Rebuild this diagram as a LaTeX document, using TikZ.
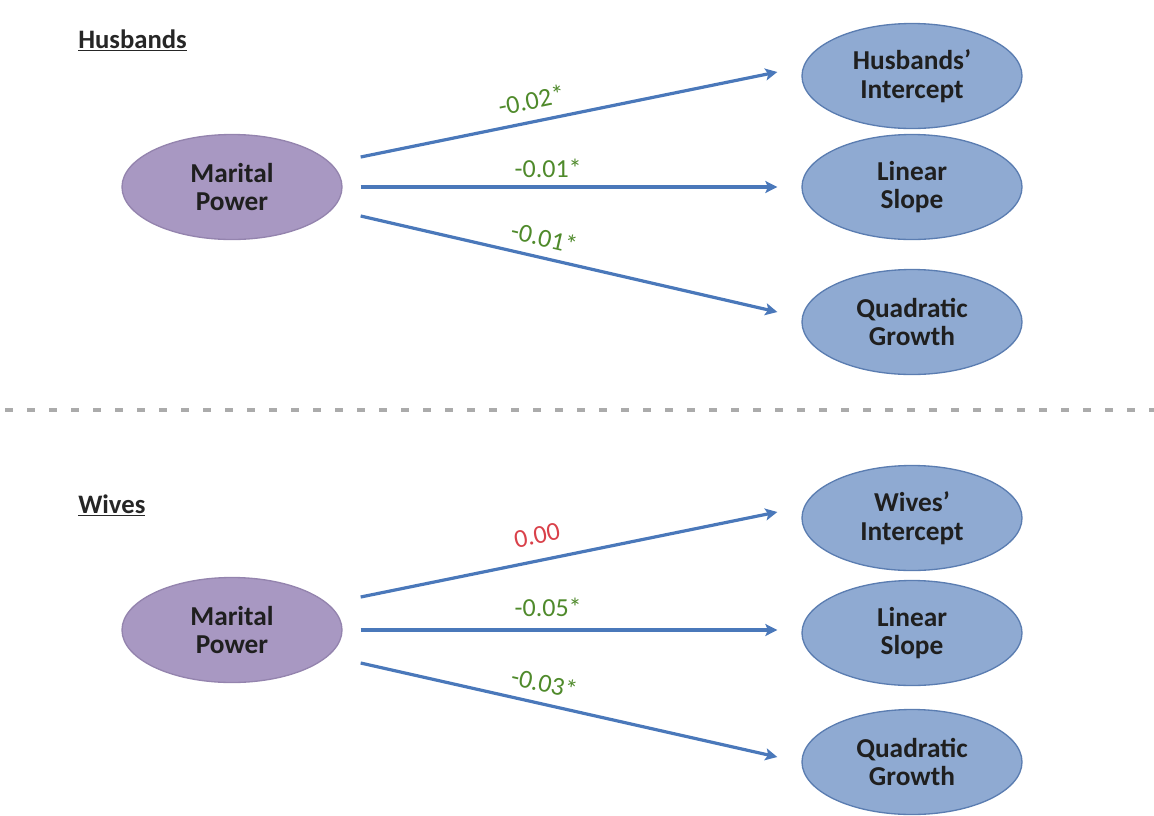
\documentclass[tikz,border=0pt]{standalone}
\usepackage{fontspec}
\setmainfont{Carlito}
\usetikzlibrary{shapes.geometric,arrows.meta,calc}
\definecolor{purpfill}{HTML}{A898C2}
\definecolor{purpline}{HTML}{9484AE}
\definecolor{bluefill}{HTML}{8FAAD2}
\definecolor{blueline}{HTML}{5B7DB1}
\definecolor{arrowblue}{HTML}{4A78BA}
\definecolor{labgreen}{HTML}{4F8A2B}
\definecolor{labred}{HTML}{D9414A}
\definecolor{dashgray}{HTML}{ABABAB}
\tikzset{
  ovalbase/.style={ellipse, minimum width=165pt, minimum height=78.75pt, inner sep=0pt,
    line width=1pt, align=center, font=\fontsize{20.5}{21.5}\selectfont\bfseries, text=black!88},
  powerbox/.style={ovalbase, draw=purpline, fill=purpfill},
  outbox/.style={ovalbase, draw=blueline, fill=bluefill},
  grouptitle/.style={anchor=base west, inner sep=0pt, font=\fontsize{20}{21}\selectfont\bfseries, text=black!85},
  arr/.style={draw=arrowblue, line width=2.4pt, -{Stealth[length=9pt,width=9pt,inset=2pt]}},
  coef/.style={sloped, inner sep=0pt, font=\fontsize{19.5}{21}\selectfont, text=labgreen},
  coefred/.style={coef, text=labred}
}
\begin{document}
\begin{tikzpicture}[x=0.75pt,y=-0.75pt]
\useasboundingbox (0,0) rectangle (1154,815);

% titles
\node[grouptitle] (th) at (78,48) {\underline{Husbands}};
\node[grouptitle] (tw) at (78,513) {\underline{Wives}};

% separator
\draw[dashgray, line width=3pt, dash pattern=on 6pt off 10.5pt] (5,410) -- (1154,410);

% husbands block
\node[powerbox] (mp1) at (232,187) {Marital\\Power};
\node[outbox] (hi) at (912,76) {Husbands’\\Intercept};
\node[outbox] (ls1) at (912,187) {Linear\\Slope};
\node[outbox] (qg1) at (912,322) {Quadratic\\Growth};

\draw[arr] ([shift={(18,-30)}]mp1.east) -- node[coef, pos=0.42, above=8pt] {-0.02*} ([shift={(-24,-4)}]hi.west);
\draw[arr] ([shift={(18,0)}]mp1.east) -- node[coef, pos=0.45, above=6pt] {-0.01*} ([shift={(-24,0)}]ls1.west);
\draw[arr] ([shift={(18,29)}]mp1.east) -- node[coef, pos=0.43, above=7pt] {-0.01*} ([shift={(-24,-10)}]qg1.west);

% wives block
\node[powerbox] (mp2) at (232,630) {Marital\\Power};
\node[outbox] (wi) at (912,518) {Wives’\\Intercept};
\node[outbox] (ls2) at (912,633) {Linear\\Slope};
\node[outbox] (qg2) at (912,762) {Quadratic\\Growth};

\draw[arr] ([shift={(18,-33)}]mp2.east) -- node[coefred, pos=0.435, above=11pt] {0.00} ([shift={(-24,-6)}]wi.west);
\draw[arr] ([shift={(18,0)}]mp2.east) -- node[coef, pos=0.45, above=9pt] {-0.05*} ([shift={(-24,-3)}]ls2.west);
\draw[arr] ([shift={(18,33)}]mp2.east) -- node[coef, pos=0.43, above=7.5pt] {-0.03*} ([shift={(-24,-5)}]qg2.west);
\end{tikzpicture}
\end{document}
